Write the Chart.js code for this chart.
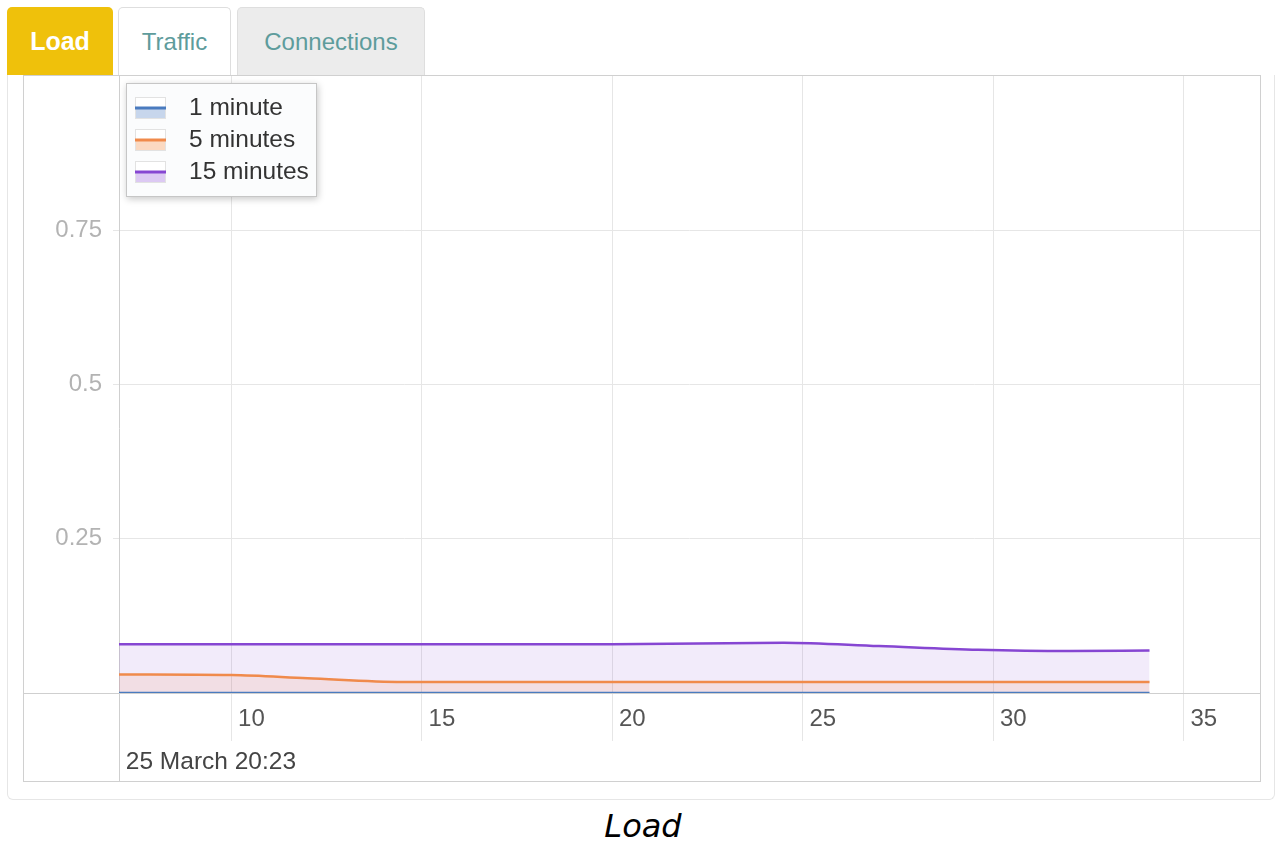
<!DOCTYPE html>
<html>
<head>
<meta charset="utf-8">
<script src="https://cdn.jsdelivr.net/npm/chart.js@4.4.1/dist/chart.umd.min.js"></script>
<style>
  html, body { margin: 0; padding: 0; background: #fff; }
  body { width: 1278px; height: 843px; position: relative; overflow: hidden;
         font-family: "Liberation Sans", Arial, sans-serif; }
  .tab { position: absolute; top: 7px; height: 68px; box-sizing: border-box;
         border-radius: 5px 5px 0 0; display: flex; align-items: center;
         justify-content: center; font-size: 24px; z-index: 3; }
  .tab.load { left: 7px; width: 106px; background: #efc10b; color: #fff; font-weight: bold; font-size: 25px; }
  .tab.traffic { left: 118px; width: 113px; background: #fff; color: #5e9c9c;
                 border: 1px solid #dedede; border-bottom: none; }
  .tab.conn { left: 237px; width: 188px; background: #ececec; color: #5e9c9c;
              border: 1px solid #dedede; border-bottom: none; }
  .panel { position: absolute; left: 7px; top: 75px; width: 1268px; height: 725px;
           box-sizing: border-box; border: 1px solid #e6e6e6; border-top: none;
           border-radius: 0 0 6px 6px; }
  .frame { position: absolute; left: 23px; top: 75px; width: 1238px; height: 707px;
           box-sizing: border-box; border: 1px solid #d0d0d0; }
  #chart { position: absolute; left: 24px; top: 76px; }
  .caption { position: absolute; left: 4px; top: 806px; width: 1278px; text-align: center;
             font-family: "DejaVu Sans", sans-serif; font-style: italic; font-size: 32px;
             color: #000; line-height: 40px; }
</style>
</head>
<body>
<div class="tab load">Load</div>
<div class="tab traffic">Traffic</div>
<div class="tab conn">Connections</div>
<div class="panel"></div>
<div class="frame"></div>
<canvas id="chart" width="1236" height="705"></canvas>
<div class="caption">Load</div>

<script>
// Sample times (seconds after the start timestamp)
const seconds = [7.05, 10, 12, 14.5, 20, 24.5, 27, 29.6, 32, 34.1];

// System load averages at each sample
const load1  = [0, 0, 0, 0, 0, 0, 0, 0, 0, 0];
const load5  = [0.030, 0.029, 0.024, 0.018, 0.018, 0.018, 0.018, 0.018, 0.018, 0.018];
const load15 = [0.079, 0.079, 0.079, 0.079, 0.079, 0.0815, 0.076, 0.070, 0.068, 0.069];

const seriesNames  = ['1 minute', '5 minutes', '15 minutes'];
const seriesValues = [load1, load5, load15];
const lineColors   = ['#4a7bbf', '#f08a4b', '#8646d2'];
const areaColors   = ['rgba(74,123,191,0.12)', 'rgba(240,138,75,0.13)', 'rgba(134,70,210,0.11)'];
const swatchColors = ['#c7d6ec', '#fbd9c1', '#dcc9f3'];

const xTicks = [10, 15, 20, 25, 30, 35];
const yTicks = [0.25, 0.5, 0.75];
const startLabel = '25 March 20:23';

const UI_FONT = '"Liberation Sans", Arial, sans-serif';

// Full-width zero line and the left axis line that runs through the axis area
const axisLines = {
  id: 'axisLines',
  beforeDatasetsDraw(chart) {
    const { ctx, chartArea, scales } = chart;
    const y0 = Math.round(scales.y.getPixelForValue(0)) + 0.5;
    const xl = Math.round(chartArea.left) + 0.5;
    ctx.save();
    ctx.strokeStyle = '#cfcfcf';
    ctx.lineWidth = 1;
    ctx.beginPath();
    ctx.moveTo(0, y0); ctx.lineTo(chart.width, y0);
    ctx.moveTo(xl, 0); ctx.lineTo(xl, chart.height);
    ctx.stroke();
    ctx.restore();
  }
};

// Boxed legend in the top-left corner of the plot
const boxLegend = {
  id: 'boxLegend',
  afterDraw(chart) {
    const { ctx, chartArea } = chart;
    const bx = chartArea.left + 7, by = chartArea.top + 7, bw = 191, bh = 114;
    ctx.save();
    ctx.shadowColor = 'rgba(0,0,0,0.22)';
    ctx.shadowBlur = 7;
    ctx.shadowOffsetX = 1;
    ctx.shadowOffsetY = 2;
    ctx.fillStyle = '#fbfcfd';
    ctx.fillRect(bx, by, bw, bh);
    ctx.shadowColor = 'transparent';
    ctx.strokeStyle = '#c6c6c6';
    ctx.lineWidth = 1;
    ctx.strokeRect(bx + 0.5, by + 0.5, bw - 1, bh - 1);

    chart.data.datasets.forEach((ds, i) => {
      const cy = by + 25 + i * 32;
      const sx = bx + 9, sw = 31, sh = 22;
      ctx.fillStyle = '#ffffff';
      ctx.fillRect(sx, cy - sh / 2, sw, sh / 2);
      ctx.fillStyle = swatchColors[i];
      ctx.fillRect(sx, cy, sw, sh / 2);
      ctx.strokeStyle = '#e2e2e2';
      ctx.lineWidth = 1;
      ctx.strokeRect(sx + 0.5, cy - sh / 2 + 0.5, sw - 1, sh - 1);
      ctx.strokeStyle = ds.borderColor;
      ctx.lineWidth = 3;
      ctx.beginPath();
      ctx.moveTo(sx, cy); ctx.lineTo(sx + sw, cy);
      ctx.stroke();

      ctx.fillStyle = '#333';
      ctx.font = '24.5px ' + UI_FONT;
      ctx.textBaseline = 'middle';
      ctx.textAlign = 'left';
      ctx.fillText(ds.label, bx + 63, cy);
    });
    ctx.restore();
  }
};

const datasets = seriesNames.map((name, i) => ({
  label: name,
  data: seconds.map((t, k) => ({ x: t, y: seriesValues[i][k] })),
  borderColor: lineColors[i],
  backgroundColor: areaColors[i],
  borderWidth: 2.5,
  fill: 'origin',
  pointRadius: 0,
  pointHoverRadius: 0,
  cubicInterpolationMode: 'monotone'
}));

new Chart(document.getElementById('chart'), {
  type: 'line',
  data: { datasets },
  plugins: [axisLines, boxLegend],
  options: {
    responsive: false,
    animation: false,
    devicePixelRatio: 1,
    layout: { padding: 0 },
    plugins: { legend: { display: false }, tooltip: { enabled: false } },
    scales: {
      x: {
        type: 'linear',
        min: 7.05,
        max: 37,
        afterFit(scale) {
          scale.height = 88;
          scale.paddingLeft = 0; scale.paddingRight = 0;
          scale.paddingTop = 0; scale.paddingBottom = 0;
        },
        afterBuildTicks(scale) { scale.ticks = xTicks.map(v => ({ value: v })); },
        border: { display: false },
        grid: { color: '#e6e6e6', lineWidth: 1, drawTicks: true, tickLength: 48 },
        ticks: {
          align: 'start',
          padding: -36,
          color: '#555',
          font: { family: UI_FONT, size: 24 },
          maxRotation: 0,
          callback: v => ' ' + v
        },
        title: {
          display: true,
          text: ' ' + startLabel,
          align: 'start',
          color: '#444',
          font: { family: UI_FONT, size: 24.5 },
          padding: { top: 0, bottom: 4 }
        }
      },
      y: {
        min: 0,
        max: 1,
        afterFit(scale) {
          scale.width = 95;
          scale.paddingLeft = 0; scale.paddingRight = 0;
          scale.paddingTop = 0; scale.paddingBottom = 0;
        },
        afterBuildTicks(scale) { scale.ticks = yTicks.map(v => ({ value: v })); },
        border: { display: false },
        grid: { color: '#e6e6e6', tickLength: 6 },
        ticks: {
          padding: 11,
          color: '#b3b3b3',
          font: { family: UI_FONT, size: 24 },
          callback: v => String(v)
        }
      }
    }
  }
});
</script>
</body>
</html>
